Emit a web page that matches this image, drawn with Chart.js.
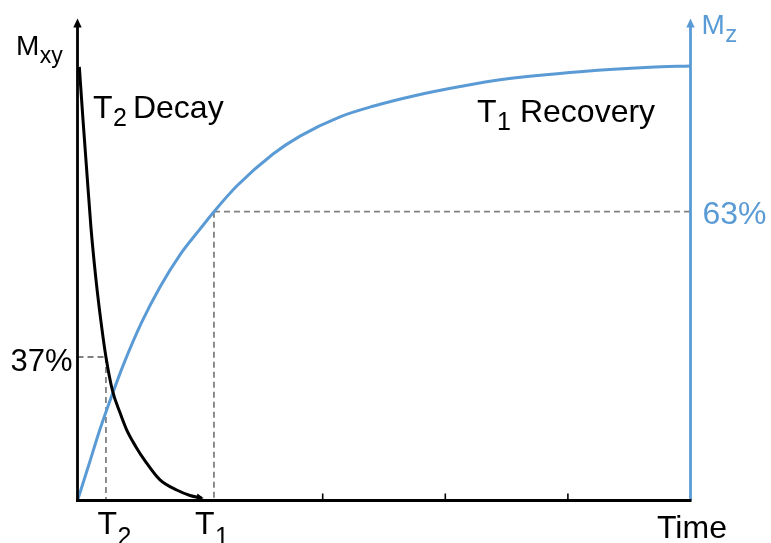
<!DOCTYPE html>
<html>
<head>
<meta charset="utf-8">
<script src="https://cdn.jsdelivr.net/npm/chart.js@4/dist/chart.umd.min.js"></script>
<style>
  html, body { margin: 0; padding: 0; background: #ffffff; }
  #wrap { width: 771px; height: 543px; }
</style>
</head>
<body>
<div id="wrap"><canvas id="chart" width="771" height="543"></canvas></div>
<script>
// Characteristic times (x units) and the marked fractions
const timeT2 = 0.232;
const timeT1 = 1.113;
const level37 = 0.37;
const level63 = 0.63;

// Transverse magnetisation: T2 decay
const decayTime = [0.015, 0.045, 0.075, 0.110, 0.151, 0.192, 0.232, 0.284, 0.347, 0.401, 0.477, 0.551, 0.673, 0.809, 0.918, 1.013];
const decayMxy  = [1.118, 0.981, 0.852, 0.703, 0.569, 0.460, 0.370, 0.285, 0.226, 0.182, 0.138, 0.102, 0.053, 0.027, 0.013, 0.006];

// Longitudinal magnetisation: T1 recovery
const recoveryTime = [0, 0.088, 0.184, 0.284, 0.374, 0.524, 0.673, 0.836, 0.999, 1.113, 1.299, 1.595, 1.815, 2.141, 2.410, 2.767, 3.120, 3.446, 4.123, 4.670, 5.0];
const recoveryMz   = [0, 0.074, 0.156, 0.232, 0.296, 0.389, 0.466, 0.536, 0.592, 0.630, 0.686, 0.756, 0.795, 0.837, 0.860, 0.884, 0.903, 0.918, 0.936, 0.945, 0.948];

// Unlabelled tick marks on the time axis
const timeTicks = [2, 3, 4];

const BLUE = '#5B9BD5';
const BLACK = '#000000';
const DASH = '#808080';
const FONT = '"Liberation Sans", Arial, Helvetica, sans-serif';

const toPoints = (xs, ys) => xs.map((x, i) => ({ x: x, y: ys[i] }));

function font(size) { return size + 'px ' + FONT; }

// Base text followed by a lowered, smaller subscript
function subText(ctx, base, sub, x, y, size, subSize, drop, color) {
  ctx.fillStyle = color;
  ctx.font = font(size);
  ctx.textAlign = 'left';
  ctx.textBaseline = 'alphabetic';
  ctx.fillText(base, x, y);
  const w = ctx.measureText(base).width;
  ctx.font = font(subSize);
  ctx.fillText(sub, x + w + 0.5, y + drop);
  return x + w + 0.5 + ctx.measureText(sub).width;
}

function arrowHead(ctx, tipX, tipY, dx, dy, len, half, color) {
  const n = Math.hypot(dx, dy);
  const ux = dx / n, uy = dy / n;
  const bx = tipX - ux * len, by = tipY - uy * len;
  ctx.fillStyle = color;
  ctx.beginPath();
  ctx.moveTo(tipX, tipY);
  ctx.lineTo(bx - uy * half, by + ux * half);
  ctx.lineTo(bx + uy * half, by - ux * half);
  ctx.closePath();
  ctx.fill();
}

const guides = {
  id: 'guides',
  beforeDatasetsDraw(chart) {
    const { ctx, scales: { x, y, y2 }, chartArea: a } = chart;
    ctx.save();
    ctx.strokeStyle = DASH;
    ctx.lineWidth = 1.8;
    ctx.setLineDash([6, 4]);
    const xT2 = x.getPixelForValue(timeT2);
    const xT1 = x.getPixelForValue(timeT1);
    const y37 = y.getPixelForValue(level37);
    const y63 = y2.getPixelForValue(level63);
    ctx.beginPath();
    ctx.moveTo(a.left, y37); ctx.lineTo(xT2, y37);
    ctx.moveTo(xT2, y37); ctx.lineTo(xT2, a.bottom);
    ctx.moveTo(xT1, y63); ctx.lineTo(a.right, y63);
    ctx.moveTo(xT1, y63); ctx.lineTo(xT1, a.bottom);
    ctx.stroke();
    ctx.restore();
  },
  afterDatasetsDraw(chart) {
    const { ctx, scales: { x, y, y2 }, chartArea: a } = chart;
    ctx.save();
    ctx.setLineDash([]);
    ctx.lineCap = 'butt';

    // Left (Mxy) axis
    ctx.strokeStyle = BLACK;
    ctx.lineWidth = 2.8;
    ctx.beginPath();
    ctx.moveTo(a.left, a.bottom + 1.4);
    ctx.lineTo(a.left, a.top + 6);
    ctx.stroke();
    arrowHead(ctx, a.left, a.top, 0, -1, 9, 4.2, BLACK);

    // Right (Mz) axis
    ctx.strokeStyle = BLUE;
    ctx.beginPath();
    ctx.moveTo(a.right, a.bottom);
    ctx.lineTo(a.right, a.top + 6);
    ctx.stroke();
    arrowHead(ctx, a.right, a.top, 0, -1, 9, 4.2, BLUE);

    // Time axis
    ctx.strokeStyle = BLACK;
    ctx.beginPath();
    ctx.moveTo(a.left - 1.4, a.bottom);
    ctx.lineTo(a.right + 1, a.bottom);
    ctx.stroke();
    ctx.lineWidth = 1.6;
    ctx.beginPath();
    timeTicks.forEach(t => {
      const px = x.getPixelForValue(t);
      ctx.moveTo(px, a.bottom);
      ctx.lineTo(px, a.bottom - 7);
    });
    ctx.stroke();

    // Arrow at the tail of the decay curve
    const n = decayTime.length;
    const tx = x.getPixelForValue(decayTime[n - 1]) + 2;
    const ty = y.getPixelForValue(decayMxy[n - 1]);
    const px0 = x.getPixelForValue(decayTime[n - 2]);
    const py0 = y.getPixelForValue(decayMxy[n - 2]);
    arrowHead(ctx, tx, ty, tx - px0, ty - py0, 7, 3.5, BLACK);

    // Axis titles
    subText(ctx, 'M', 'xy', 16, 55, 28, 23, 8, BLACK);
    subText(ctx, 'M', 'z', a.right + 11, 34, 28, 24, 8, BLUE);

    // Curve names
    const after2 = subText(ctx, 'T', '2', 93, 118, 32, 25, 8, BLACK);
    ctx.font = font(32);
    ctx.fillText('Decay', after2 + 6, 118);
    const after1 = subText(ctx, 'T', '1', 477, 122, 32, 25, 8, BLACK);
    ctx.font = font(32);
    ctx.fillText('Recovery', after1 + 9, 122);

    // Level labels
    ctx.font = font(31);
    ctx.fillStyle = BLACK;
    ctx.textAlign = 'right';
    ctx.fillText('37%', a.left - 5, y.getPixelForValue(level37) + 14);
    ctx.fillStyle = BLUE;
    ctx.textAlign = 'left';
    ctx.font = font(32);
    ctx.fillText('63%', a.right + 12, y2.getPixelForValue(level63) + 12);

    // Time axis labels
    subText(ctx, 'T', '2', x.getPixelForValue(timeT2) - 8.5, 534, 32, 25, 11, BLACK);
    subText(ctx, 'T', '1', x.getPixelForValue(timeT1) - 19, 534, 32, 25, 11, BLACK);
    ctx.font = font(32);
    ctx.fillStyle = BLACK;
    ctx.textAlign = 'left';
    ctx.fillText('Time', 657, 538);
    ctx.restore();
  }
};

new Chart(document.getElementById('chart'), {
  type: 'line',
  data: {
    datasets: [
      {
        label: 'T2 decay',
        data: toPoints(decayTime, decayMxy),
        yAxisID: 'y',
        borderColor: BLACK,
        borderWidth: 3,
        pointRadius: 0,
        cubicInterpolationMode: 'monotone',
        clip: false
      },
      {
        label: 'T1 recovery',
        data: toPoints(recoveryTime, recoveryMz),
        yAxisID: 'y2',
        borderColor: BLUE,
        borderWidth: 3,
        pointRadius: 0,
        cubicInterpolationMode: 'monotone',
        clip: false
      }
    ]
  },
  options: {
    responsive: false,
    animation: false,
    devicePixelRatio: 1,
    layout: { padding: { left: 77.5, right: 80.5, top: 18.5, bottom: 42.5 } },
    plugins: { legend: { display: false }, tooltip: { enabled: false } },
    scales: {
      x: { type: 'linear', min: 0, max: 5, display: false },
      y: { min: 0, max: 1.243, display: false, position: 'left' },
      y2: { min: 0, max: 1.0515, display: false, position: 'right' }
    }
  },
  plugins: [guides]
});
</script>
</body>
</html>
